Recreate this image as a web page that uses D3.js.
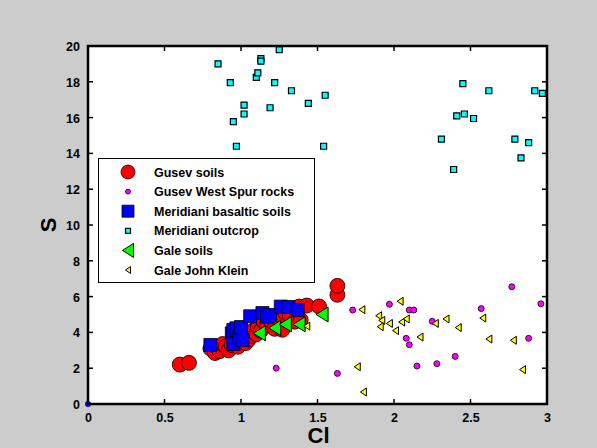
<!DOCTYPE html>
<html>
<head>
<meta charset="utf-8">
<script src="https://cdn.jsdelivr.net/npm/d3@7"></script>
<style>
  body { margin: 0; background: #cccccc; }
  svg { display: block; font-family: "Liberation Sans", Arial, sans-serif; }
</style>
</head>
<body>
<div id="chart"></div>
<script>
// data: [Cl, S]
const gusevSoils = [
  [0.60, 2.2], [0.66, 2.3], [0.80, 3.1], [0.83, 2.85], [0.85, 3.1], [0.86, 2.95],
  [0.88, 3.35], [0.90, 3.2], [0.92, 3.0], [0.94, 3.3], [0.96, 3.45], [0.98, 3.2],
  [1.00, 3.6], [1.01, 3.95], [1.03, 3.4], [1.05, 3.6], [1.07, 3.8], [1.08, 4.1],
  [1.10, 3.9], [1.11, 4.3], [1.13, 4.1], [1.15, 4.6], [1.17, 4.4], [1.18, 4.9],
  [1.20, 4.6], [1.22, 4.2], [1.24, 4.8], [1.26, 4.7], [1.27, 4.15], [1.29, 5.1],
  [1.32, 4.95], [1.35, 4.6], [1.38, 5.44], [1.39, 4.7], [1.43, 5.5], [1.51, 5.45],
  [1.63, 6.1], [1.63, 6.6]
];
const westSpurRocks = [
  [2.77, 6.55], [2.96, 5.6], [1.73, 5.25], [1.97, 5.57], [2.10, 5.25], [2.13, 5.25],
  [2.57, 5.33], [2.25, 4.62], [2.08, 3.67], [2.10, 3.31], [2.88, 3.67], [2.40, 2.66],
  [2.28, 2.25], [2.15, 2.12], [1.63, 1.71], [1.23, 2.0]
];
const meridianiSoils = [
  [0.80, 3.3], [0.94, 3.95], [0.95, 3.35], [0.95, 4.13], [0.97, 4.23], [0.99, 3.76],
  [1.00, 4.3], [1.01, 3.58], [1.06, 4.9], [1.14, 5.08], [1.17, 4.88], [1.19, 4.97],
  [1.26, 5.44], [1.31, 5.42], [1.37, 5.25]
];
const meridianiOutcrop = [
  [0.85, 19.0], [0.93, 17.95], [0.95, 15.77], [0.97, 14.4], [1.02, 16.7], [1.02, 16.2],
  [1.10, 18.25], [1.11, 18.5], [1.13, 19.3], [1.13, 19.15], [1.19, 16.55], [1.22, 17.95],
  [1.25, 19.8], [1.33, 17.5], [1.44, 16.8], [1.54, 14.4], [1.55, 17.25],
  [2.45, 17.9], [2.62, 17.5], [2.92, 17.5], [2.97, 17.35], [2.41, 16.1], [2.46, 16.2],
  [2.52, 15.95], [2.31, 14.8], [2.79, 14.8], [2.88, 14.6], [2.83, 13.75], [2.39, 13.1]
];
const galeSoils = [
  [1.12, 3.95], [1.22, 4.25], [1.29, 4.45], [1.38, 4.45], [1.53, 5.0]
];
const galeJohnKlein = [
  [1.43, 4.35], [1.79, 5.27], [2.04, 5.74], [1.90, 4.93], [1.92, 4.67], [1.91, 4.32],
  [1.97, 4.5], [2.05, 4.58], [2.08, 4.75], [2.01, 4.1], [2.17, 3.74], [2.27, 4.5],
  [2.34, 4.75], [2.42, 4.27], [2.58, 4.8], [2.62, 3.63], [2.78, 3.56], [2.84, 1.92],
  [1.76, 2.08], [1.80, 0.67]
];
const originDot = [[0, 0]];

const xTicks = [0, 0.5, 1, 1.5, 2, 2.5, 3];
const yTicks = [0, 2, 4, 6, 8, 10, 12, 14, 16, 18, 20];
const legendLabels = ['Gusev soils', 'Gusev West Spur rocks', 'Meridiani basaltic soils',
  'Meridiani outcrop', 'Gale soils', 'Gale John Klein'];

const W = 597, H = 448;
const plot = { left: 88, top: 46, right: 547, bottom: 404 };

const x = d3.scaleLinear().domain([0, 3]).range([plot.left, plot.right]);
const y = d3.scaleLinear().domain([0, 20]).range([plot.bottom, plot.top]);

const svg = d3.select('#chart').append('svg')
  .attr('width', W)
  .attr('height', H);

svg.append('rect').attr('width', W).attr('height', H).attr('fill', '#cccccc');
svg.append('rect')
  .attr('x', plot.left).attr('y', plot.top)
  .attr('width', plot.right - plot.left).attr('height', plot.bottom - plot.top)
  .attr('fill', '#fff');

// marker shapes
const circle = r => `M${-r},0a${r},${r} 0 1,0 ${2 * r},0a${r},${r} 0 1,0 ${-2 * r},0Z`;
const square = s => `M${-s / 2},${-s / 2}h${s}v${s}h${-s}Z`;
const leftTri = (w, h) => `M${-w / 2},0L${w / 2},${-h / 2}L${w / 2},${h / 2}Z`;

const styles = [
  { data: gusevSoils, d: circle(7.5), fill: '#ff0000', stroke: '#000', sw: 0.8, ld: circle(7) },
  { data: westSpurRocks, d: circle(3), fill: '#ff00ff', stroke: '#000', sw: 0.8, ld: circle(2.5) },
  { data: meridianiSoils, d: square(13), fill: '#0000ff', stroke: '#000', sw: 0.8, ld: square(12) },
  { data: meridianiOutcrop, d: square(6), fill: '#00ffff', stroke: '#000', sw: 1.2, ld: square(5) },
  { data: galeSoils, d: leftTri(12, 15), fill: '#00ff00', stroke: '#000', sw: 1, ld: leftTri(11, 14) },
  { data: galeJohnKlein, d: leftTri(6, 8), fill: '#ffff00', stroke: '#000', sw: 1, ld: leftTri(5, 7) }
];

const marks = svg.append('g');
styles.forEach(s => {
  marks.append('g').selectAll('path')
    .data(s.data)
    .join('path')
    .attr('transform', d => `translate(${x(d[0])},${y(d[1])})`)
    .attr('d', s.d)
    .attr('fill', s.fill)
    .attr('stroke', s.stroke)
    .attr('stroke-width', s.sw);
});

marks.append('g').selectAll('circle')
  .data(originDot)
  .join('circle')
  .attr('cx', d => x(d[0])).attr('cy', d => y(d[1]))
  .attr('r', 3)
  .attr('fill', '#0000ff');

// axes, ticks pointing inward on all four sides
const tickLen = 5;
const bottomAxis = d3.axisBottom(x).tickValues(xTicks).tickSize(0).tickPadding(9)
  .tickFormat(d3.format('~g'));
const leftAxis = d3.axisLeft(y).tickValues(yTicks).tickSize(0).tickPadding(8);

const gx = svg.append('g').attr('transform', `translate(0,${plot.bottom})`).call(bottomAxis);
const gy = svg.append('g').attr('transform', `translate(${plot.left},0)`).call(leftAxis);
[gx, gy].forEach(g => {
  g.select('.domain').remove();
  g.selectAll('text')
    .attr('font-size', 12.5)
    .attr('font-weight', 'bold')
    .attr('font-family', '"Liberation Sans", Arial, sans-serif')
    .attr('fill', '#000');
});
gy.selectAll('text').attr('dy', '0.36em');

const ticks = svg.append('g').attr('stroke', '#000').attr('stroke-width', 1.5);
xTicks.forEach(t => {
  ticks.append('line').attr('x1', x(t)).attr('x2', x(t))
    .attr('y1', plot.bottom).attr('y2', plot.bottom - tickLen);
  ticks.append('line').attr('x1', x(t)).attr('x2', x(t))
    .attr('y1', plot.top).attr('y2', plot.top + tickLen);
});
yTicks.forEach(t => {
  ticks.append('line').attr('x1', plot.left).attr('x2', plot.left + tickLen)
    .attr('y1', y(t)).attr('y2', y(t));
  ticks.append('line').attr('x1', plot.right).attr('x2', plot.right - tickLen)
    .attr('y1', y(t)).attr('y2', y(t));
});

svg.append('rect')
  .attr('x', plot.left).attr('y', plot.top)
  .attr('width', plot.right - plot.left).attr('height', plot.bottom - plot.top)
  .attr('fill', 'none')
  .attr('stroke', '#000')
  .attr('stroke-width', 2.5);

// axis titles
svg.append('text')
  .attr('x', (plot.left + plot.right) / 2 + 1).attr('y', 443)
  .attr('text-anchor', 'middle')
  .attr('font-size', 22).attr('font-weight', 'bold')
  .text('Cl');

svg.append('text')
  .attr('transform', `translate(56,${(plot.top + plot.bottom) / 2}) rotate(-90)`)
  .attr('text-anchor', 'middle')
  .attr('font-size', 22).attr('font-weight', 'bold')
  .text('S');

// legend
const legend = svg.append('g');
legend.append('rect')
  .attr('x', 98.5).attr('y', 158.5).attr('width', 216).attr('height', 124)
  .attr('fill', '#fff').attr('stroke', '#000').attr('stroke-width', 1);

const ly = d3.scalePoint().domain(legendLabels).range([172, 270]);
styles.forEach((s, i) => {
  const row = legend.append('g').attr('transform', `translate(0,${ly(legendLabels[i])})`);
  row.append('path')
    .attr('transform', 'translate(128,0)')
    .attr('d', s.ld)
    .attr('fill', s.fill)
    .attr('stroke', s.stroke)
    .attr('stroke-width', s.sw);
  row.append('text')
    .attr('x', 154).attr('dy', '0.36em')
    .attr('font-size', 12.5).attr('font-weight', 'bold')
    .text(legendLabels[i]);
});
</script>
</body>
</html>
